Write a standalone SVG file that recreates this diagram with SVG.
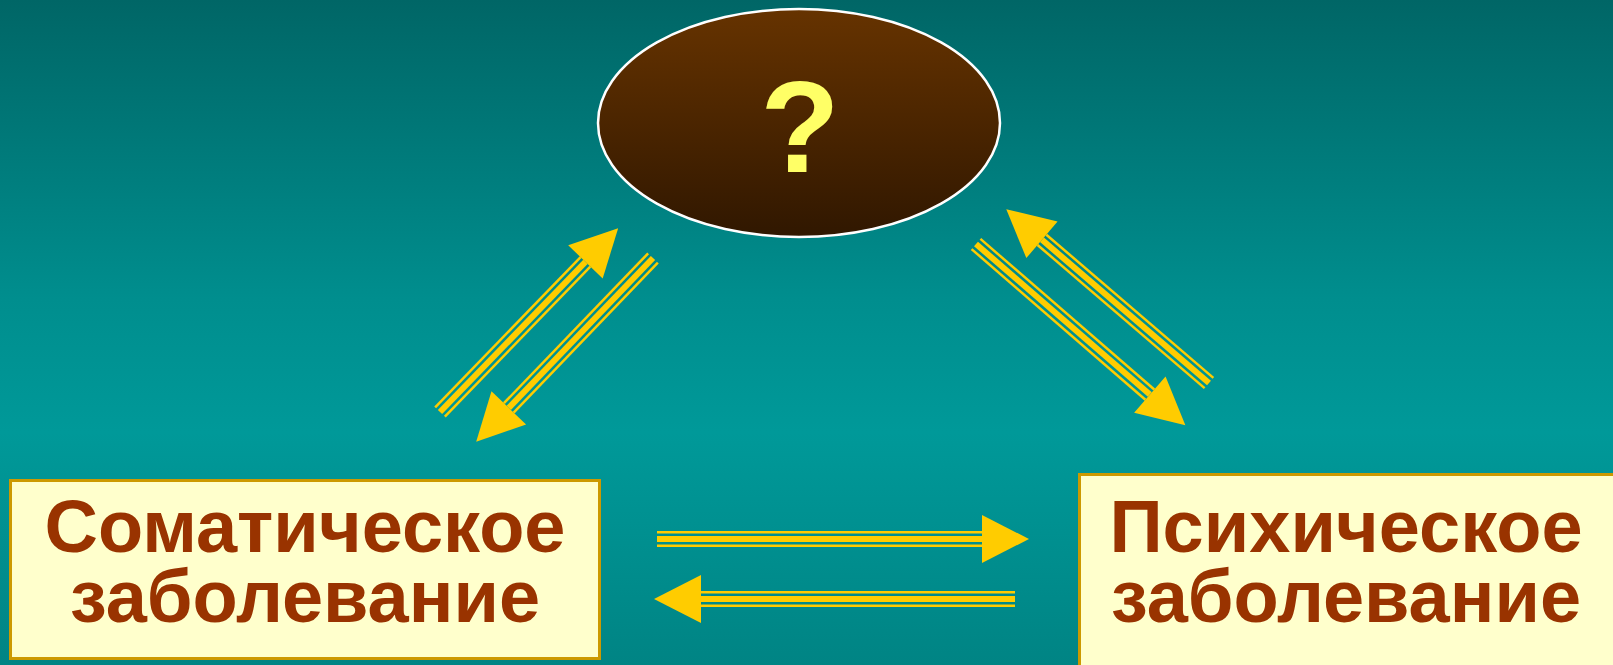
<svg xmlns="http://www.w3.org/2000/svg" width="1613" height="665" viewBox="0 0 1613 665">
<defs>
<linearGradient id="bg" x1="0" y1="0" x2="0" y2="1">
<stop offset="0" stop-color="#006666"/>
<stop offset="0.45" stop-color="#008e8e"/>
<stop offset="0.65" stop-color="#009999"/>
<stop offset="1" stop-color="#008484"/>
</linearGradient>
<linearGradient id="ell" x1="0" y1="0" x2="0" y2="1">
<stop offset="0" stop-color="#663300"/>
<stop offset="1" stop-color="#301700"/>
</linearGradient>
<style>
.box{fill:#FFFFCC;stroke:#CC9900;stroke-width:3}
.lbl{font-family:"Liberation Sans",Arial,sans-serif;font-weight:bold;font-size:74px;fill:#993300;text-anchor:middle}
.thin{stroke:#FFCC00;stroke-width:2.5}
.thick{stroke:#FFCC00;stroke-width:6}
.head{fill:#FFCC00}
</style>
</defs>
<rect x="0" y="0" width="1613" height="665" fill="url(#bg)"/>
<g id="node-unknown">
<ellipse cx="799" cy="123" rx="201" ry="114" fill="url(#ell)" stroke="#FFFFFF" stroke-width="2.5"/>
<text x="800" y="172" font-family="Liberation Sans,Arial,sans-serif" font-weight="bold" font-size="130" fill="#FFFF66" text-anchor="middle">?</text>
</g>
<g id="node-somatic">
<rect class="box" x="10.5" y="480.5" width="589" height="178"/>
<text class="lbl" x="305" y="552">Соматическое</text>
<text class="lbl" x="305" y="622">заболевание</text>
</g>
<g id="node-psychic">
<rect class="box" x="1079.5" y="474.5" width="560" height="220"/>
<text class="lbl" x="1346" y="552">Психическое</text>
<text class="lbl" x="1346" y="622">заболевание</text>
</g>
<g id="connectors">
<g transform="translate(440,412) rotate(-45.9)">
<line class="thin" x1="0" y1="-6.75" x2="209" y2="-6.75"/><line class="thick" x1="0" y1="0" x2="209" y2="0"/><line class="thin" x1="0" y1="6.75" x2="209" y2="6.75"/>
<polygon class="head" points="209,-24 256,0 209,24"/>
</g>
<g transform="translate(653,258) rotate(133.9)">
<line class="thin" x1="0" y1="-6.75" x2="208" y2="-6.75"/><line class="thick" x1="0" y1="0" x2="208" y2="0"/><line class="thin" x1="0" y1="6.75" x2="208" y2="6.75"/>
<polygon class="head" points="208,-24 255,0 208,24"/>
</g>
<g transform="translate(1209,383) rotate(-139.4)">
<line class="thin" x1="0" y1="-6.75" x2="220" y2="-6.75"/><line class="thick" x1="0" y1="0" x2="220" y2="0"/><line class="thin" x1="0" y1="6.75" x2="220" y2="6.75"/>
<polygon class="head" points="220,-24 267,0 220,24"/>
</g>
<g transform="translate(976,244) rotate(40.9)">
<line class="thin" x1="0" y1="-6.75" x2="230" y2="-6.75"/><line class="thick" x1="0" y1="0" x2="230" y2="0"/><line class="thin" x1="0" y1="6.75" x2="230" y2="6.75"/>
<polygon class="head" points="230,-24 277,0 230,24"/>
</g>
<g transform="translate(657,539)">
<line class="thin" x1="0" y1="-6.75" x2="325" y2="-6.75"/><line class="thick" x1="0" y1="0" x2="325" y2="0"/><line class="thin" x1="0" y1="6.75" x2="325" y2="6.75"/>
<polygon class="head" points="325,-24 372,0 325,24"/>
</g>
<g transform="translate(1015,599) rotate(180)">
<line class="thin" x1="0" y1="-6.75" x2="314" y2="-6.75"/><line class="thick" x1="0" y1="0" x2="314" y2="0"/><line class="thin" x1="0" y1="6.75" x2="314" y2="6.75"/>
<polygon class="head" points="314,-24 361,0 314,24"/>
</g>
</g>
</svg>
